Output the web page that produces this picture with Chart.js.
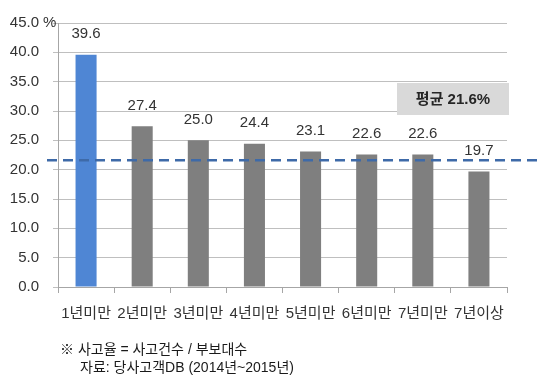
<!DOCTYPE html>
<html>
<head>
<meta charset="utf-8">
<script src="https://cdn.jsdelivr.net/npm/chart.js@4"></script>
<style>
  html, body { margin:0; padding:0; background:#fff; }
  #wrap { width:540px; height:386px; }
</style>
</head>
<body>
<div id="wrap"><canvas id="myCan" width="540" height="386"></canvas></div>
<script>
// data
var labels = ['1년미만','2년미만','3년미만','4년미만','5년미만','6년미만','7년미만','7년이상'];
var rates = [39.6, 27.4, 25.0, 24.4, 23.1, 22.6, 22.6, 19.7];
var avgRate = 21.6;
var avgText = '평균 21.6%';
var yUnit = '%';
var noteLines = ['※ 사고율 = 사고건수 / 부보대수', '자료: 당사고객DB (2014년~2015년)'];

var barColors = rates.map(function(v, i){ return i == 0 ? '#4f86d4' : '#7f7f7f'; });
var txtcolor = '#333333';
var fontFam = '"Liberation Sans", "Noto Sans CJK KR", sans-serif';

var extras = {
  id: 'extras',
  afterDatasetsDraw: function(chart) {
    var ctx = chart.ctx;
    var y = chart.scales.y;
    var meta = chart.getDatasetMeta(0);

    // value labels
    ctx.save();
    ctx.font = '15px ' + fontFam;
    ctx.fillStyle = txtcolor;
    ctx.textAlign = 'center';
    ctx.textBaseline = 'bottom';
    meta.data.forEach(function(bar, i){
      ctx.fillText(rates[i].toFixed(1), bar.x, bar.y - 13);
    });

    // average line
    var ay = y.getPixelForValue(avgRate);
    ctx.strokeStyle = '#3e6aa8';
    ctx.lineWidth = 2.5;
    ctx.setLineDash([10, 6]);
    ctx.beginPath();
    ctx.moveTo(47, ay);
    ctx.lineTo(540, ay);
    ctx.stroke();
    ctx.setLineDash([]);

    // average box
    ctx.fillStyle = '#d9d9d9';
    ctx.fillRect(397, 83, 112, 32);
    ctx.fillStyle = '#262626';
    ctx.font = 'bold 15px ' + fontFam;
    ctx.textBaseline = 'middle';
    ctx.fillText(avgText, 453, 100);

    // unit
    ctx.font = '15px ' + fontFam;
    ctx.fillStyle = txtcolor;
    ctx.textAlign = 'left';
    ctx.fillText(yUnit, 43, y.getPixelForValue(45));

    // notes
    ctx.font = '14px ' + fontFam;
    ctx.fillStyle = '#1a1a1a';
    ctx.fillText(noteLines[0], 60, 350);
    ctx.fillText(noteLines[1], 80, 368);
    ctx.restore();
  }
};

var ctxx = document.getElementById('myCan').getContext('2d');
var xChart = new Chart(ctxx, {
  type: 'bar',
  data: {
    labels: labels,
    datasets: [{
      data: rates,
      backgroundColor: barColors,
      barPercentage: 0.75,
      categoryPercentage: 0.5
    }]
  },
  options: {
    responsive: false,
    animation: false,
    layout: { padding: { top: 18, right: 33, left: 0, bottom: 0 } },
    plugins: { legend: { display: false }, tooltip: { enabled: false } },
    scales: {
      x: {
        afterFit: function(s){ s.height = 99; },
        grid: { drawOnChartArea: false, drawTicks: true, tickLength: 6, color: '#a6a6a6', offset: true },
        border: { color: '#a6a6a6' },
        ticks: {
          autoSkip: false, maxRotation: 0, padding: 12,
          color: txtcolor,
          font: { size: 15, family: fontFam }
        }
      },
      y: {
        min: 0, max: 45,
        afterFit: function(s){ s.width = 58; },
        grid: { color: '#bfbfbf', tickLength: 5 },
        border: { color: '#a6a6a6' },
        ticks: {
          stepSize: 5, padding: 14,
          color: txtcolor,
          font: { size: 15, family: fontFam },
          callback: function(v){ return v.toFixed(1); }
        }
      }
    }
  },
  plugins: [extras]
});
</script>
</body>
</html>
